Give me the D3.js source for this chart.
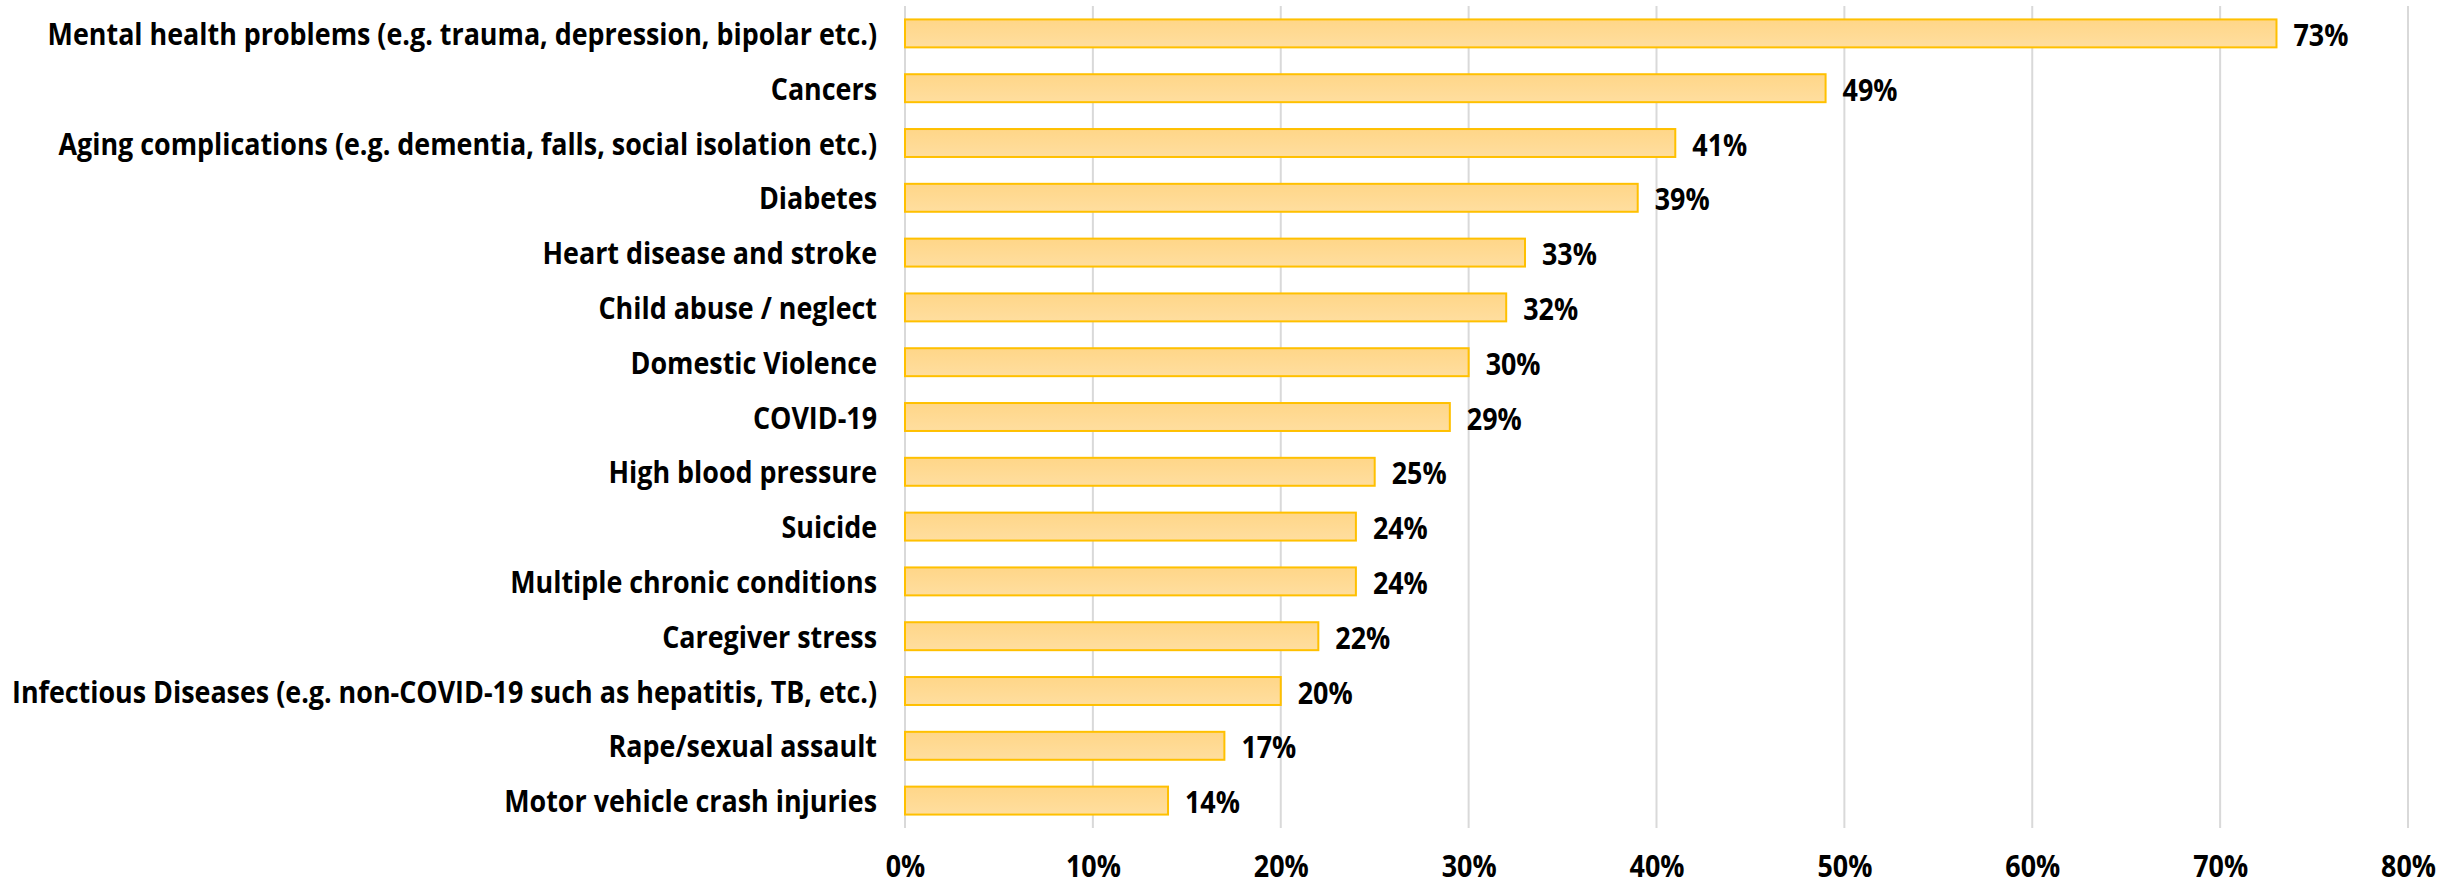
<!DOCTYPE html>
<html>
<head>
<meta charset="utf-8">
<script src="https://cdn.jsdelivr.net/npm/d3@7"></script>
<style>
  body { margin: 0; background: #fff; }
  text { font-family: "Open Sans", "DejaVu Sans", sans-serif; font-weight: bold; }
</style>
</head>
<body>
<div id="chart"></div>
<script>
// Data
var categories = [
  "Mental health problems (e.g. trauma, depression, bipolar etc.)",
  "Cancers",
  "Aging complications (e.g. dementia, falls, social isolation etc.)",
  "Diabetes",
  "Heart disease and stroke",
  "Child abuse / neglect",
  "Domestic Violence",
  "COVID-19",
  "High blood pressure",
  "Suicide",
  "Multiple chronic conditions",
  "Caregiver stress",
  "Infectious Diseases (e.g. non-COVID-19 such as hepatitis, TB, etc.)",
  "Rape/sexual assault",
  "Motor vehicle crash injuries"
];
var values = [0.73, 0.49, 0.41, 0.39, 0.33, 0.32, 0.30, 0.29, 0.25, 0.24, 0.24, 0.22, 0.20, 0.17, 0.14];
var xTicks = [0, 0.1, 0.2, 0.3, 0.4, 0.5, 0.6, 0.7, 0.8];

var data = categories.map(function(c, i) { return { name: c, value: values[i] }; });

var W = 2464, H = 885;
var plotLeft = 905, plotRight = 2408, plotTop = 6, plotBottom = 828;
var fontSize = 30;

var svg = d3.select("#chart").append("svg")
  .attr("width", W)
  .attr("height", H);

var defs = svg.append("defs");
var grad = defs.append("linearGradient")
  .attr("id", "barFill")
  .attr("x1", 0).attr("y1", 0).attr("x2", 0).attr("y2", 1);
grad.append("stop").attr("offset", "0%").attr("stop-color", "#FFD688");
grad.append("stop").attr("offset", "100%").attr("stop-color", "#FFDE9F");

// Scales
var x = d3.scaleLinear().domain([0, 0.8]).range([plotLeft, plotRight]);
var y = d3.scaleBand()
  .domain(categories)
  .range([plotTop, plotBottom])
  .paddingInner(0.49)
  .paddingOuter(0.245);

// Gridlines
svg.append("g")
  .selectAll("line")
  .data(xTicks)
  .enter()
  .append("line")
  .attr("x1", function(d) { return x(d); })
  .attr("x2", function(d) { return x(d); })
  .attr("y1", plotTop)
  .attr("y2", plotBottom)
  .attr("stroke", "#D9D9D9")
  .attr("stroke-width", 2);

// X axis labels
var xAxis = d3.axisBottom(x)
  .tickValues(xTicks)
  .tickFormat(d3.format(".0%"))
  .tickSize(0)
  .tickPadding(0);

var gx = svg.append("g")
  .attr("transform", "translate(0," + 865 + ")")
  .call(xAxis);
gx.select(".domain").remove();
gx.selectAll("text")
  .attr("dy", null)
  .attr("y", 0)
  .attr("dominant-baseline", "central")
  .attr("font-size", fontSize)
  .attr("font-family", null)
  .attr("fill", "#000");

// Y axis labels
var yAxis = d3.axisLeft(y).tickSize(0).tickPadding(0);
var gy = svg.append("g")
  .attr("transform", "translate(" + 877 + ",0)")
  .call(yAxis);
gy.select(".domain").remove();
gy.selectAll("text")
  .attr("dy", null)
  .attr("dominant-baseline", "central")
  .attr("font-size", fontSize)
  .attr("font-family", null)
  .attr("fill", "#000");

// Bars
svg.append("g")
  .selectAll("rect")
  .data(data)
  .enter()
  .append("rect")
  .attr("x", x(0))
  .attr("y", function(d) { return y(d.name); })
  .attr("width", function(d) { return x(d.value) - x(0); })
  .attr("height", y.bandwidth())
  .attr("fill", "url(#barFill)")
  .attr("stroke", "#FFC000")
  .attr("stroke-width", 2);

// Value labels
svg.append("g")
  .selectAll("text")
  .data(data)
  .enter()
  .append("text")
  .attr("x", function(d) { return x(d.value) + 17; })
  .attr("y", function(d) { return y(d.name) + y.bandwidth() / 2 + 1; })
  .attr("dominant-baseline", "central")
  .attr("font-size", fontSize)
  .attr("fill", "#000")
  .text(function(d) { return d3.format(".0%")(d.value); });

// narrow all text so the longest label spans ~865px, like the condensed original font
var widest = d3.max(gy.selectAll("text").nodes(), function(n) { return n.getComputedTextLength(); });
var squeeze = Math.min(1, 865 / widest);
svg.selectAll("text").each(function() {
  var w = this.getComputedTextLength();
  d3.select(this)
    .attr("textLength", w * squeeze)
    .attr("lengthAdjust", "spacingAndGlyphs");
});
</script>
</body>
</html>
